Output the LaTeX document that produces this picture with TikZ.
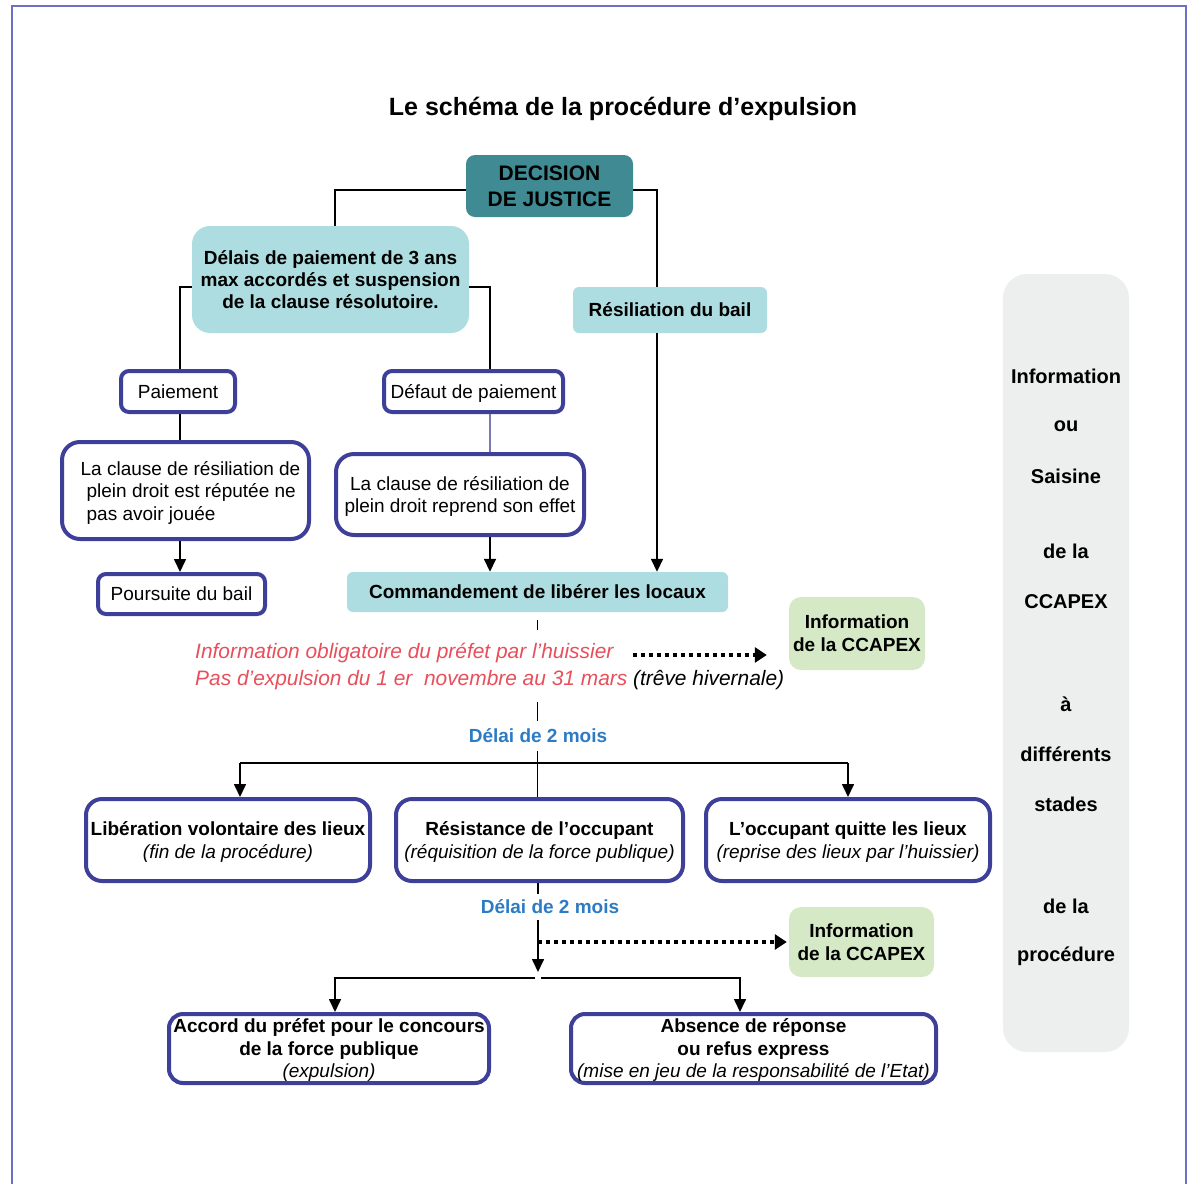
\documentclass[tikz,border=0pt]{standalone}
\usepackage{fontspec}
\setmainfont{Liberation Sans}
\usetikzlibrary{arrows.meta}
\definecolor{frameblue}{HTML}{6D71C4}
\definecolor{tealdec}{HTML}{408B93}
\definecolor{lightcyan}{HTML}{ADDDE0}
\definecolor{lightgreen}{HTML}{D6E9C6}
\definecolor{panelgrey}{HTML}{EDEEEE}
\definecolor{boxblue}{HTML}{3D3F98}
\definecolor{redtxt}{HTML}{E94E5B}
\definecolor{bluetxt}{HTML}{2C7BC4}
\begin{document}
\begin{tikzpicture}[x=1pt,y=-1pt,
  base/.style={font=\fontsize{19}{22.5}\selectfont, align=center, inner sep=0pt},
  boxtext/.style={text depth=0pt},
  bluebox/.style={base, boxtext, draw=boxblue, line width=4pt, fill=white, rounded corners=16pt},
  cyanbox/.style={base, boxtext, font=\fontsize{19}{22}\selectfont\bfseries, fill=lightcyan, rounded corners=8pt},
  greenbox/.style={base, boxtext, font=\fontsize{19}{23}\selectfont\bfseries, fill=lightgreen, rounded corners=12pt},
  conn/.style={line width=1.6pt, black},
  arr/.style={conn, -{Triangle[length=13pt,width=12pt]}},
  dotarr/.style={line width=4pt, dash pattern=on 4pt off 4pt, -{Triangle[length=12pt,width=15pt]}},
  delai/.style={base, font=\fontsize{19}{22}\selectfont\bfseries, text=bluetxt, fill=white, inner xsep=3pt, inner ysep=8pt}
]
\useasboundingbox (0,0) rectangle (1189,1184);
% frame
\draw[frameblue, line width=2.2pt] (12,1184) -- (12,6) -- (1186,6) -- (1186,1184);

% title
\node[base, font=\fontsize{25}{30}\selectfont\bfseries] (title) at (623,109) {Le schéma de la procédure d’expulsion};

% right panel
\node[fill=panelgrey, rounded corners=24pt, minimum width=126pt, minimum height=778pt, inner sep=0pt] (panel) at (1066,663) {};
\foreach \yy/\tt [count=\i] in {376/Information, 426/ou, 476/Saisine, 551/de la, 602/CCAPEX, 704/à, 754/différents, 804/stades, 906/de la, 956/procédure}
  \node[base, font=\fontsize{20}{24}\selectfont\bfseries] (pt\i) at (1066,\yy) {\tt};

% nodes
\node[base, boxtext, font=\fontsize{21}{26}\selectfont\bfseries, fill=tealdec, rounded corners=9pt, minimum width=167pt, minimum height=62pt] (dec) at (549.5,186) {DECISION\\DE JUSTICE};
\node[cyanbox, rounded corners=18pt, minimum width=277pt, minimum height=107pt] (delais) at (330.5,279.5) {Délais de paiement de 3 ans\\max accordés et suspension\\de la clause résolutoire.};
\node[cyanbox, rounded corners=6pt, minimum width=194pt, minimum height=46pt] (resil) at (670,310) {Résiliation du bail};

\node[bluebox, rounded corners=8pt, minimum width=114pt, minimum height=41pt] (paie) at (178,391.5) {Paiement};
\node[bluebox, rounded corners=8pt, minimum width=179pt, minimum height=41pt] (defaut) at (473.5,391.5) {Défaut de paiement};
\node[bluebox, align=left, rounded corners=18pt, minimum width=247pt, minimum height=97pt] (clause1) at (185.5,490.5) {\hspace*{10pt}La clause de résiliation de\\\hspace*{16pt}plein droit est réputée ne\\\hspace*{16pt}pas avoir jouée};
\node[bluebox, rounded corners=18pt, minimum width=248pt, minimum height=81pt] (clause2) at (460,494.5) {La clause de résiliation de\\plein droit reprend son effet};
\node[bluebox, rounded corners=8pt, minimum width=167pt, minimum height=40pt] (pours) at (181.5,594) {Poursuite du bail};
\node[cyanbox, rounded corners=6pt, minimum width=381pt, minimum height=40pt] (comm) at (537.5,592) {Commandement de libérer les locaux};
\node[greenbox, minimum width=136pt, minimum height=73pt] (info1) at (857,633.5) {Information\\de la CCAPEX};

\node[bluebox, minimum width=284pt, minimum height=82pt] (lib) at (228,840) {\textbf{Libération volontaire des lieux}\\\textit{(fin de la procédure)}};
\node[bluebox, minimum width=287pt, minimum height=82pt] (resist) at (539.5,840) {\textbf{Résistance de l’occupant}\\\textit{(réquisition de la force publique)}};
\node[bluebox, minimum width=284pt, minimum height=82pt] (quitte) at (848,840) {\textbf{L’occupant quitte les lieux}\\\textit{(reprise des lieux par l’huissier)}};
\node[greenbox, minimum width=145pt, minimum height=70pt] (info2) at (861.5,942) {Information\\de la CCAPEX};
\node[bluebox, rounded corners=14pt, minimum width=320pt, minimum height=69pt] (accord) at (329,1048.5) {\textbf{Accord du préfet pour le concours}\\\textbf{de la force publique}\\\textit{(expulsion)}};
\node[bluebox, rounded corners=14pt, minimum width=365pt, minimum height=69pt] (absence) at (753.5,1048.5) {\textbf{Absence de réponse}\\\textbf{ou refus express}\\\textit{(mise en jeu de la responsabilité de l’Etat)}};

% connectors top
\draw[conn] (dec.west |- 0,190) -| ([xshift=4.5pt]delais.north);
\draw[conn] (dec.east |- 0,190) -| ([xshift=-13pt]resil.north);
\draw[conn] (delais.west |- 0,287) -- ([xshift=2pt]paie.north |- 0,287) -- ([xshift=2pt]paie.north);
\draw[conn] (delais.east |- 0,287) -- ([xshift=16.5pt]defaut.north |- 0,287) -- ([xshift=16.5pt]defaut.north);
\draw[conn] ([xshift=2pt]paie.south) -- ([xshift=2pt]paie.south |- clause1.north);
\draw[arr] ([xshift=2pt]paie.south |- clause1.south) -- ([xshift=2pt]paie.south |- pours.north);
\draw[boxblue!70, line width=1.2pt] ([xshift=16.5pt]defaut.south) -- ([xshift=16.5pt]defaut.south |- clause2.north);
\draw[arr] ([xshift=16.5pt]defaut.south |- clause2.south) -- ([xshift=16.5pt]defaut.south |- comm.north);
\draw[arr] ([xshift=-13pt]resil.south) -- ([xshift=-13pt]resil.south |- comm.north);

% central line from commandement to résistance
\draw[conn, line width=1.3pt] ([yshift=-8pt]comm.south) -- (comm.south |- resist.north);
\node[base, font=\fontsize{20.9}{27}\selectfont\itshape, align=left, fill=white, inner xsep=0pt, inner ysep=13pt, anchor=west] (warn) at (195,666)
  {\textcolor{redtxt}{Information obligatoire du préfet par l’huissier}\\\textcolor{redtxt}{Pas d’expulsion du 1 er\ \ novembre au 31 mars} (trêve hivernale)};
\node[delai] (delai1) at (538,736) {Délai de 2 mois};
\coordinate (d1) at (633,655);
\draw[dotarr] (d1) -- ([xshift=-22pt]info1.west |- d1);
\coordinate (j1) at (538,763);
\draw[conn] ([xshift=12pt]lib.north |- j1) -- (quitte.north |- j1);
\draw[arr] ([xshift=12pt]lib.north |- j1) -- ([xshift=12pt]lib.north);
\draw[arr] (quitte.north |- j1) -- (quitte.north);

% lower part
\coordinate (j2) at (538,978);
\draw[arr] (resist.south -| j2) -- ([yshift=6pt]j2);
\node[delai, inner ysep=6pt] (delai2) at (550,907) {Délai de 2 mois};
\coordinate (d2) at (538,942);
\draw[dotarr] (d2) -- ([xshift=-2pt]info2.west |- d2);
\draw[arr] ([xshift=-3pt]j2) -| ([xshift=6pt]accord.north);
\draw[arr] ([xshift=3pt]j2) -| ([xshift=-13.5pt]absence.north);
\end{tikzpicture}
\end{document}
